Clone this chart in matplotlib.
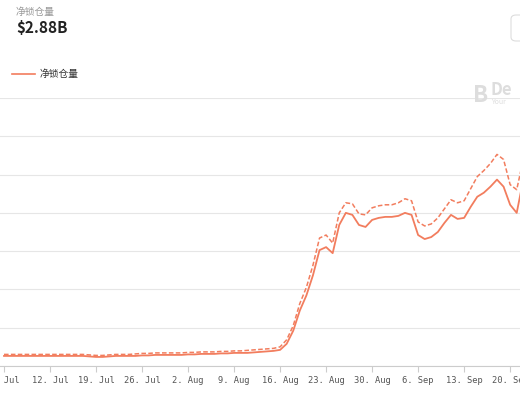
import matplotlib
matplotlib.use('Agg')
import matplotlib.pyplot as plt
from matplotlib.patches import FancyBboxPatch

plt.rcParams['font.family'] = ['Noto Sans CJK SC', 'DejaVu Sans']

# daily values from 5 Jul (day 0), in chart units (one grid step = 38)
solid = [10, 10, 10, 10, 10, 10, 10, 10, 10, 10, 10, 10, 10, 9.5, 9, 9, 9.5, 10, 10, 10,
         10, 10.5, 10.5, 11, 11, 11, 11, 11, 11.5, 11.5, 12, 12, 12, 12.5, 12.5, 13, 13, 13,
         13.5, 14, 14.5, 15,
         16, 22, 35, 55, 70, 90, 115, 118, 112, 140, 152, 150, 140, 138, 145, 147, 148, 148,
         149, 152, 150, 130, 126, 128, 133, 142, 150, 146, 147, 158, 168, 172, 178, 185, 178,
         160, 152, 185]
dashed = [11.5, 11.5, 11.5, 11.5, 11.5, 11.5, 11.5, 11.5, 11.5, 11.5, 11.5, 11.5, 11.5, 11, 10.5,
          10.5, 11, 11.5, 11.5, 11.5, 12, 12.5, 12.5, 13, 13, 13, 13, 13, 13.5, 13.5, 14, 14,
          14, 14.5, 14.5, 15, 15, 15.5, 16, 16.5, 17, 17.5,
          19, 26, 40, 62, 78, 100, 127, 130, 122, 152, 162, 161, 151, 150, 157, 159, 160, 160,
          162, 166, 164, 143, 139, 141, 147, 156, 165, 162, 164, 176, 188, 194, 201, 210, 205,
          180, 175, 205]
days = list(range(len(solid)))
tick_days = [0, 7, 14, 21, 28, 35, 42, 49, 56, 63, 70, 77]
tick_labels = ['5. Jul', '12. Jul', '19. Jul', '26. Jul', '2. Aug', '9. Aug', '16. Aug',
               '23. Aug', '30. Aug', '6. Sep', '13. Sep', '20. Sep']

color = '#f27d5e'
fig = plt.figure(figsize=(5.2, 4.0), dpi=100)
ax = fig.add_axes([0, 0.085, 1, 0.67])
ax.plot(days, solid, color=color, lw=1.3)
ax.plot(days, dashed, color=color, lw=1.1, ls=(0, (3, 1.5)))
ax.set_xlim(-0.61, 78.5)
ax.set_ylim(0, 266)
ax.set_yticks([38 * i for i in range(8)])
ax.set_yticklabels([])
ax.tick_params(axis='y', length=0)
ax.grid(axis='y', color='#e6e6e6', lw=0.8)
ax.set_xticks(tick_days)
ax.set_xticklabels(tick_labels, family='DejaVu Sans Mono', fontsize=6.3, color='#555555')
ax.tick_params(axis='x', length=4, color='#cccccc', pad=3)
for s in ['top', 'left', 'right']:
    ax.spines[s].set_visible(False)
ax.spines['bottom'].set_color('#cccccc')
ax.set_axisbelow(True)

fig.text(16 / 520, 1 - 12 / 400, '净锁仓量', fontsize=7, color='#999999', va='center')
fig.text(16 / 520, 1 - 28 / 400, '$2.88B', fontsize=11, fontweight='bold', color='#222222', va='center')
fig.add_artist(plt.Line2D([12 / 520, 35 / 520], [1 - 74 / 400] * 2, color=color, lw=1.2))
fig.text(40 / 520, 1 - 74 / 400, '净锁仓量', fontsize=7, color='#333333', va='center')
fig.add_artist(FancyBboxPatch((511 / 520, 1 - 41 / 400), 0.05, 26 / 400,
                              boxstyle='round,pad=0,rounding_size=0.01',
                              transform=fig.transFigure, fc='white', ec='#dddddd', lw=0.8))
fig.text(473 / 520, 1 - 95 / 400, 'B', fontsize=16, fontweight='bold', color='#dddddd', va='center')
fig.text(491 / 520, 1 - 90 / 400, 'De', fontsize=12, fontweight='bold', color='#dddddd', va='center')
fig.text(491 / 520, 1 - 102 / 400, 'Your', fontsize=5, color='#dddddd', va='center')

fig.savefig('out.png', dpi=100)
